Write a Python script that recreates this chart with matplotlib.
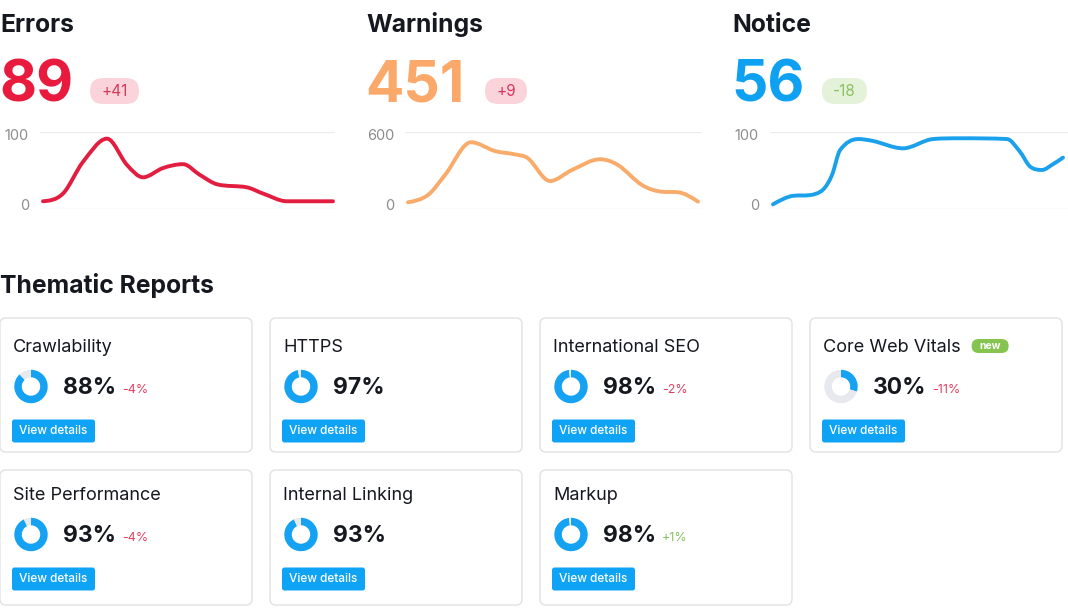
import numpy as np
import matplotlib
matplotlib.use("Agg")
import matplotlib.pyplot as plt
import matplotlib.transforms as mtransforms
from matplotlib.path import Path
from matplotlib.patches import PathPatch, FancyBboxPatch

plt.rcParams['font.family'] = ['Inter', 'DejaVu Sans']

W, H = 1068, 609

# --- top summary data ---
issue_titles = ["Errors", "Warnings", "Notice"]
issue_totals = ["89", "451", "56"]
issue_deltas = ["+41", "+9", "-18"]
issue_ymax = [100, 600, 100]

errors_days = [0, 2, 4, 6.4, 8.4, 10, 12, 14, 15.7, 17.4, 20.4, 22, 24.4, 29]
errors_vals = [10, 20, 61, 91, 57, 41, 53, 58, 44, 32, 28, 20, 10, 10]
warnings_days = [0, 2, 3.7, 6.3, 8.7, 10.7, 12, 14.2, 16.4, 19.2, 21, 23.4, 25.4, 27, 29]
warnings_vals = [52, 109, 264, 518, 450, 424, 393, 217, 303, 386, 341, 186, 134, 130, 57]
notice_days = [0, 2, 3.7, 5, 5.9, 6.7, 8.5, 10, 13, 16, 18.7, 23.4, 24.7, 25.7, 26.9, 28, 29]
notice_vals = [6, 17, 18, 25, 44, 76, 90.5, 88, 78.5, 90.5, 91.5, 90.5, 74, 55, 50.5, 58, 66.5]

# --- thematic reports data ---
report_names = ["Crawlability", "HTTPS", "International SEO", "Core Web Vitals",
                "Site Performance", "Internal Linking", "Markup"]
report_pct = [88, 97, 98, 30, 93, 93, 98]
report_change = [-4, None, -2, -11, -4, None, 1]
report_new = [False, False, False, True, False, False, False]

DARK = '#16181f'
BLUE = '#16a2f3'
main_colors = ['#e81a3d', '#fba96a', '#0ea1f1']
line_colors = ['#e21d40', '#f9ab6b', '#1ba1ec']
pill_fill = ['#fbd4db', '#fbd4db', '#e3f2d9']
pill_text = ['#d23a5b', '#d8335a', '#8cc262']


def smooth_path(x, y):
    # cubic bezier through the points, flat at local peaks/troughs
    x = np.asarray(x, float)
    y = np.asarray(y, float)
    h = np.diff(x)
    d = np.diff(y) / h
    m = np.zeros_like(y)
    for i in range(1, len(x) - 1):
        if d[i - 1] * d[i] <= 0:
            m[i] = 0
        else:
            c = (y[i + 1] - y[i - 1]) / (x[i + 1] - x[i - 1])
            lim = 3 * min(abs(d[i - 1]), abs(d[i]))
            m[i] = np.sign(c) * min(abs(c), lim)
    m[0] = (3 * d[0] - m[1]) / 2
    if m[0] * d[0] < 0:
        m[0] = 0
    m[-1] = (3 * d[-1] - m[-2]) / 2
    if m[-1] * d[-1] < 0:
        m[-1] = 0
    verts = [(x[0], y[0])]
    codes = [Path.MOVETO]
    for i in range(len(x) - 1):
        verts += [(x[i] + h[i] / 3, y[i] + m[i] * h[i] / 3),
                  (x[i + 1] - h[i] / 3, y[i + 1] - m[i + 1] * h[i] / 3),
                  (x[i + 1], y[i + 1])]
        codes += [Path.CURVE4] * 3
    return Path(verts, codes)


fig = plt.figure(figsize=(W / 100, H / 100), dpi=100)
page = fig.add_axes([0, 0, 1, 1])
page.set_xlim(0, W)
page.set_ylim(H, 0)
page.axis('off')


def px_axes(x0, y0, w, h):
    return fig.add_axes([x0 / W, 1 - (y0 + h) / H, w / W, h / H])


# ---------- top three panels ----------
col_x = [0, 366, 732]
pill_x = [90, 485, 822]
pill_w = [49, 42, 45]
series = [(errors_days, errors_vals), (warnings_days, warnings_vals), (notice_days, notice_vals)]
chart_x = [40, 405, 770]
chart_w = [295, 297, 298]
chart_xmax = [29.2, 29.4, 29.5]

for i in range(3):
    page.text(col_x[i], 32, issue_titles[i], fontsize=17.8, fontweight='bold', color=DARK, va='baseline')
    page.text(col_x[i] - 1, 102, issue_totals[i], fontsize=41, fontweight='bold', color=main_colors[i], va='baseline')
    page.add_patch(FancyBboxPatch((pill_x[i], 78), pill_w[i], 26,
                                  boxstyle="round,pad=0,rounding_size=13",
                                  fc=pill_fill[i], ec='none'))
    page.text(pill_x[i] + pill_w[i] / 2, 91.5, issue_deltas[i], fontsize=11,
              color=pill_text[i], ha='center', va='center')

    ax = px_axes(chart_x[i], 131.7, chart_w[i], 77.3)
    ax.set_facecolor('none')
    ax.set_xlim(-0.3, chart_xmax[i])
    ax.set_ylim(0, issue_ymax[i])
    ax.set_yticks([0, issue_ymax[i]])
    ax.set_xticks([])
    for s in ax.spines.values():
        s.set_visible(False)
    ax.tick_params(axis='y', length=0, pad=8, labelsize=10.5, labelcolor='#8c8c8c')
    labels = ax.get_yticklabels()
    for lab, dy in zip(labels, [4 / 72, -3 / 72]):
        lab.set_transform(lab.get_transform() + mtransforms.ScaledTranslation(0, dy * 72 / 100, fig.dpi_scale_trans))
    ax.grid(axis='y', color='#ececec', lw=1)
    ax.set_axisbelow(True)
    ax.add_patch(PathPatch(smooth_path(*series[i]), fc='none', ec=line_colors[i],
                           lw=2.8, capstyle='round', joinstyle='round', clip_on=False))

# ---------- thematic reports ----------
page.text(0, 293, "Thematic Reports", fontsize=17.8, fontweight='bold', color=DARK, va='baseline')

card_x = [0, 270, 540, 810, 0, 270, 540]
card_top = [318, 318, 318, 318, 470, 470, 470]
card_h = [134, 134, 134, 134, 135, 135, 135]
content_top = [318, 318, 318, 318, 466, 466, 466]
card_w = 252

fig.canvas.draw()
renderer = fig.canvas.get_renderer()
inv = page.transData.inverted()

for k, name in enumerate(report_names):
    x0, ct = card_x[k], content_top[k]
    page.add_patch(FancyBboxPatch((x0, card_top[k]), card_w, card_h[k],
                                  boxstyle="round,pad=0,rounding_size=6",
                                  fc='white', ec='#e3e4e7', lw=1.1))
    t = page.text(x0 + 13, ct + 34.5, name, fontsize=13, color=DARK, va='baseline')

    if report_new[k]:
        bb = t.get_window_extent(renderer)
        tx = inv.transform((bb.x1, bb.y0))[0]
        page.add_patch(FancyBboxPatch((tx + 11, ct + 21), 37, 14,
                                      boxstyle="round,pad=0,rounding_size=7",
                                      fc='#84c44f', ec='none'))
        page.text(tx + 29.5, ct + 28.3, "new", fontsize=7.5, fontweight='bold',
                  color='white', ha='center', va='center')

    # donut
    r = 16.7
    dax = px_axes(x0 + 31 - r, ct + 68.5 - r, 2 * r, 2 * r)
    dax.pie([report_pct[k], 100 - report_pct[k]], colors=[BLUE, '#e7e9ee'],
            startangle=90, counterclock=False, radius=1,
            wedgeprops=dict(width=0.45, edgecolor='none'))
    dax.set_xlim(-1, 1)
    dax.set_ylim(-1, 1)
    dax.axis('off')

    p = page.text(x0 + 63, ct + 76, f"{report_pct[k]}%", fontsize=16.5,
                  fontweight='bold', color=DARK, va='baseline')
    if report_change[k] is not None:
        bb = p.get_window_extent(renderer)
        px = inv.transform((bb.x1, bb.y0))[0]
        ch = report_change[k]
        page.text(px + 6, ct + 74.6, f"{ch:+d}%", fontsize=9,
                  color='#e2405f' if ch < 0 else '#86c160', va='baseline')

    # button
    page.add_patch(FancyBboxPatch((x0 + 12, ct + 101.5), 83, 23,
                                  boxstyle="round,pad=0,rounding_size=2.5",
                                  fc='#0fa3f6', ec='none'))
    page.text(x0 + 53.5, ct + 113.3, "View details", fontsize=8.5, fontweight='medium',
              color='white', ha='center', va='center')

fig.savefig("out.png", dpi=100, facecolor='white')
